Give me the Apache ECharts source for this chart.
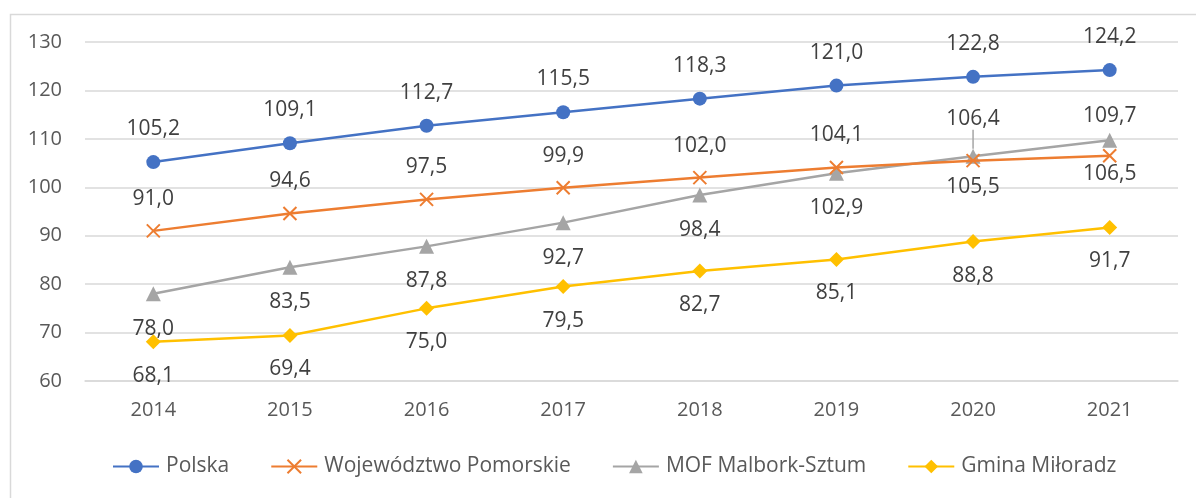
<!DOCTYPE html>
<html>
<head>
<meta charset="utf-8">
<script src="https://cdn.jsdelivr.net/npm/echarts@6/dist/echarts.min.js"></script>
<style>
html,body{margin:0;padding:0;background:#fff;}
#chart{width:1196px;height:498px;}
</style>
</head>
<body>
<div id="chart"></div>
<script>
const years = ['2014','2015','2016','2017','2018','2019','2020','2021'];
const seriesNames = ['Polska','Województwo Pomorskie','MOF Malbork-Sztum','Gmina Miłoradz'];
const polska = [105.2,109.1,112.7,115.5,118.3,121.0,122.8,124.2];
const pomorskie = [91.0,94.6,97.5,99.9,102.0,104.1,105.5,106.5];
const mof = [78.0,83.5,87.8,92.7,98.4,102.9,106.4,109.7];
const miloradz = [68.1,69.4,75.0,79.5,82.7,85.1,88.8,91.7];
const yTicks = {min:60,max:130,interval:10};

// label placement (style): vertical offset in px from point centre
const labelDy = [
  [-33,-33,-33,-33,-33,-33,-33,-33],
  [-32,-32,-32,-32,-32,-32,26,18],
  [35,35,35,35,35,35,-37,-24],
  [34,34,34,34,34,34,34,34]
];
const colors = ['#4472C4','#ED7D31','#A5A5A5','#FFC000'];
const symbols = ['circle','path://M0 0L10 10M10 0L0 10','triangle','diamond'];
const symbolSizes = [14,13,15,15];
const values = [polska,pomorskie,mof,miloradz];

const fmt = v => v.toFixed(1).replace('.', ',');
const FONT = '"Open Sans", "Noto Sans", sans-serif';

const series = values.map((vals, si) => ({
  name: seriesNames[si],
  type: 'line',
  data: vals.map((v, i) => {
    const d = {value: v};
    if (si === 2 && i === 6) {
      d.labelLine = {show: true, lineStyle: {color: '#A5A5A5', width: 1.5}};
    }
    return d;
  }),
  symbol: symbols[si],
  symbolSize: symbolSizes[si],
  showSymbol: true,
  lineStyle: {color: colors[si], width: 2.5},
  itemStyle: si === 1
    ? {color: colors[si], borderColor: colors[si], borderWidth: 2}
    : {color: colors[si]},
  label: {
    show: true,
    position: 'inside',
    formatter: p => fmt(p.value),
    color: '#404040',
    fontSize: 21,
    fontFamily: FONT
  },
  labelLayout: p => ({dy: labelDy[si][p.dataIndex]}),
  emphasis: {disabled: true},
  z: 10 - si
}));

const chart = echarts.init(document.getElementById('chart'), null, {renderer: 'canvas'});
chart.setOption({
  animation: false,
  color: colors,
  graphic: [{
    type: 'rect',
    left: 8, top: 12,
    shape: {width: 1200, height: 500},
    style: {fill: 'none', stroke: '#D9D9D9', lineWidth: 1.5},
    silent: true, z: -10
  }],
  grid: {left: 85, right: 18, top: 42, bottom: 117},
  xAxis: {
    type: 'category',
    data: years,
    boundaryGap: true,
    axisLine: {show: true, lineStyle: {color: '#D9D9D9', width: 1.5}},
    axisTick: {show: false},
    axisLabel: {color: '#595959', fontSize: 20, fontFamily: FONT, margin: 19}
  },
  yAxis: {
    type: 'value',
    min: yTicks.min, max: yTicks.max, interval: yTicks.interval,
    axisLine: {show: false},
    axisTick: {show: false},
    splitLine: {lineStyle: {color: '#D9D9D9', width: 1.5}},
    axisLabel: {color: '#595959', fontSize: 20, fontFamily: FONT, margin: 23}
  },
  legend: {
    left: 112,
    top: 456,
    padding: 0,
    itemGap: 41,
    itemWidth: 46,
    itemHeight: 17,
    textStyle: {color: '#595959', fontSize: 21, fontFamily: FONT, padding: [0, 0, 0, 2]},
    data: seriesNames
  },
  series: series
});
</script>
</body>
</html>
